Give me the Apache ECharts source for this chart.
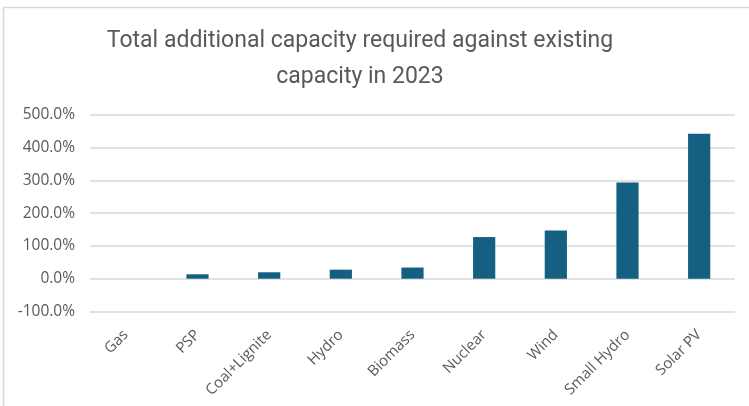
<!DOCTYPE html>
<html><head><meta charset="utf-8">
<script src="https://cdn.jsdelivr.net/npm/echarts@6/dist/echarts.min.js"></script>
<style>html,body{margin:0;padding:0;background:#fff;}#c{width:749px;height:406px;}</style>
</head><body><div id="c"></div>
<script>
const categories = ["Gas","PSP","Coal+Lignite","Hydro","Biomass","Nuclear","Wind","Small Hydro","Solar PV"];
const values = [0, 13.5, 19.6, 27.5, 34, 127, 147, 293, 442];
const titleLines = ["Total additional capacity required against existing", "capacity in 2023"];

const chart = echarts.init(document.getElementById('c'), null, {renderer:'canvas'});
chart.setOption({
  animation:false,
  backgroundColor:'#fff',
  graphic:[{type:'rect', shape:{x:3.5,y:7.5,width:800,height:450}, style:{fill:'none', stroke:'#d9d9d9', lineWidth:1.5}, silent:true}],
  title:{
    text: titleLines.join('\n'),
    left:355, top:18, textAlign:'center',
    textStyle:{fontFamily:'Roboto,sans-serif', fontSize:23, fontWeight:'normal', color:'#595959', lineHeight:36}
  },
  grid:{left:90, right:14, top:114.7, bottom:94.5, containLabel:false},
  xAxis:{
    type:'category', data:categories,
    axisLine:{show:false}, axisTick:{show:false},
    axisLabel:{rotate:45, color:'#595959', fontSize:15, fontFamily:'"Open Sans",sans-serif', margin:21, interval:0}
  },
  yAxis:{
    type:'value', min:-100, max:500, interval:100,
    axisLine:{show:false}, axisTick:{show:false},
    splitLine:{lineStyle:{color:'#d9d9d9', width:1.5}},
    axisLabel:{formatter: v => v.toFixed(1)+'%', color:'#595959', fontSize:15.5, fontFamily:'"Open Sans",sans-serif', margin:15}
  },
  series:[{type:'bar', data:values, barWidth:'31%', itemStyle:{color:'#156082'}}]
});
</script></body></html>
